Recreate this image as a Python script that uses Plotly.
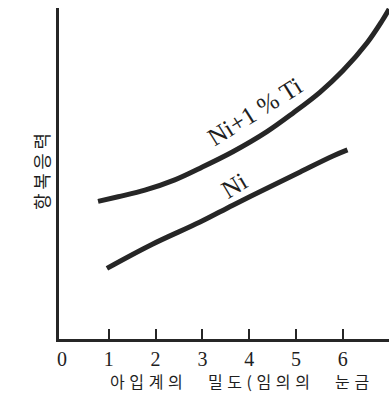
import plotly.graph_objects as go

# Yield stress vs. subgrain-boundary density (arbitrary units)
ni_ti_x = [0.77, 1.20, 1.77, 2.41, 2.95, 3.65, 4.38, 4.94, 5.51, 6.00, 6.52, 6.84, 6.99]
ni_ti_y = [2.94, 3.04, 3.18, 3.40, 3.65, 4.00, 4.43, 4.83, 5.27, 5.73, 6.33, 6.80, 7.05]

ni_x = [0.96, 1.92, 2.95, 3.65, 4.38, 5.09, 5.79, 6.10]
ni_y = [1.51, 2.02, 2.50, 2.86, 3.22, 3.57, 3.91, 4.04]

x_tick_vals = [0, 1, 2, 3, 4, 5, 6]
x_tick_text = ["0", "1", "2", "3", "4", "5", "6"]
x_mark_vals = [1, 2, 3, 4, 5, 6]

x_title = "아입계의\u3000밀도(임의의\u3000눈금"
y_title = "항복응력"
label_ni_ti = "Ni+1 % Ti"
label_ni = "Ni"

W, H = 389, 393
L, R, T, B = 59, 0, 8, 54
UNIT = 46.8          # pixels per axis unit
X0_PX, Y0_PX = 62, 339

plot_w = W - L - R
plot_h = H - T - B

def paper_x(px):
    return (px - L) / plot_w

def paper_y(py):
    return (H - B - py) / plot_h

ink = "#262626"
serif = "Liberation Serif, Times New Roman, serif"
kr = "Noto Sans CJK KR, sans-serif"

fig = go.Figure()
fig.add_trace(go.Scatter(x=ni_ti_x, y=ni_ti_y, mode="lines",
                         line=dict(color=ink, width=5, shape="spline", smoothing=1.0),
                         hoverinfo="skip", showlegend=False))
fig.add_trace(go.Scatter(x=ni_x, y=ni_y, mode="lines",
                         line=dict(color=ink, width=5, shape="spline", smoothing=1.0),
                         hoverinfo="skip", showlegend=False))
# invisible trace on the overlay axis so its ticks are drawn
fig.add_trace(go.Scatter(x=[None], y=[None], xaxis="x2", showlegend=False, hoverinfo="skip"))

x_range = [(L - X0_PX) / UNIT, (W - R - X0_PX) / UNIT]
y_range = [(Y0_PX - (H - B)) / UNIT, (Y0_PX - T) / UNIT]

fig.update_layout(
    width=W, height=H,
    margin=dict(l=L, r=R, t=T, b=B, pad=0),
    paper_bgcolor="white", plot_bgcolor="white",
    xaxis=dict(range=x_range, tickmode="array", tickvals=x_tick_vals, ticktext=x_tick_text,
               ticks="", showgrid=False, zeroline=False,
               showline=True, linecolor=ink, linewidth=2.5,
               tickfont=dict(family=serif, size=20, color="#1e1e1e")),
    xaxis2=dict(range=x_range, overlaying="x", anchor="y", side="bottom",
                tickmode="array", tickvals=x_mark_vals, ticks="inside",
                ticklen=10, tickwidth=1.5, tickcolor=ink,
                showticklabels=False, showgrid=False, zeroline=False, showline=False),
    yaxis=dict(range=y_range, showticklabels=False, ticks="", showgrid=False,
               zeroline=False, showline=True, linecolor=ink, linewidth=2.5),
)

fig.add_annotation(x=4.12, y=4.86, xref="x", yref="y", text=label_ni_ti,
                   textangle=-32, showarrow=False,
                   font=dict(family=serif, size=25, color="#1e1e1e"))
fig.add_annotation(x=3.68, y=3.27, xref="x", yref="y", text=label_ni,
                   textangle=-31, showarrow=False,
                   font=dict(family=serif, size=25, color="#1e1e1e"))

fig.add_annotation(x=paper_x(109), y=paper_y(381), xref="paper", yref="paper",
                   xanchor="left", yanchor="middle", showarrow=False, borderpad=0,
                   text='<span style="letter-spacing:4.6px">' + x_title + "</span>",
                   font=dict(family=kr, size=16, color="#1e1e1e"))
fig.add_annotation(x=paper_x(41), y=paper_y(172), xref="paper", yref="paper",
                   xanchor="center", yanchor="middle", showarrow=False, textangle=-90,
                   text="\u2009".join(y_title),
                   font=dict(family=kr, size=18, color="#1e1e1e"))

fig.write_html("out.html")
